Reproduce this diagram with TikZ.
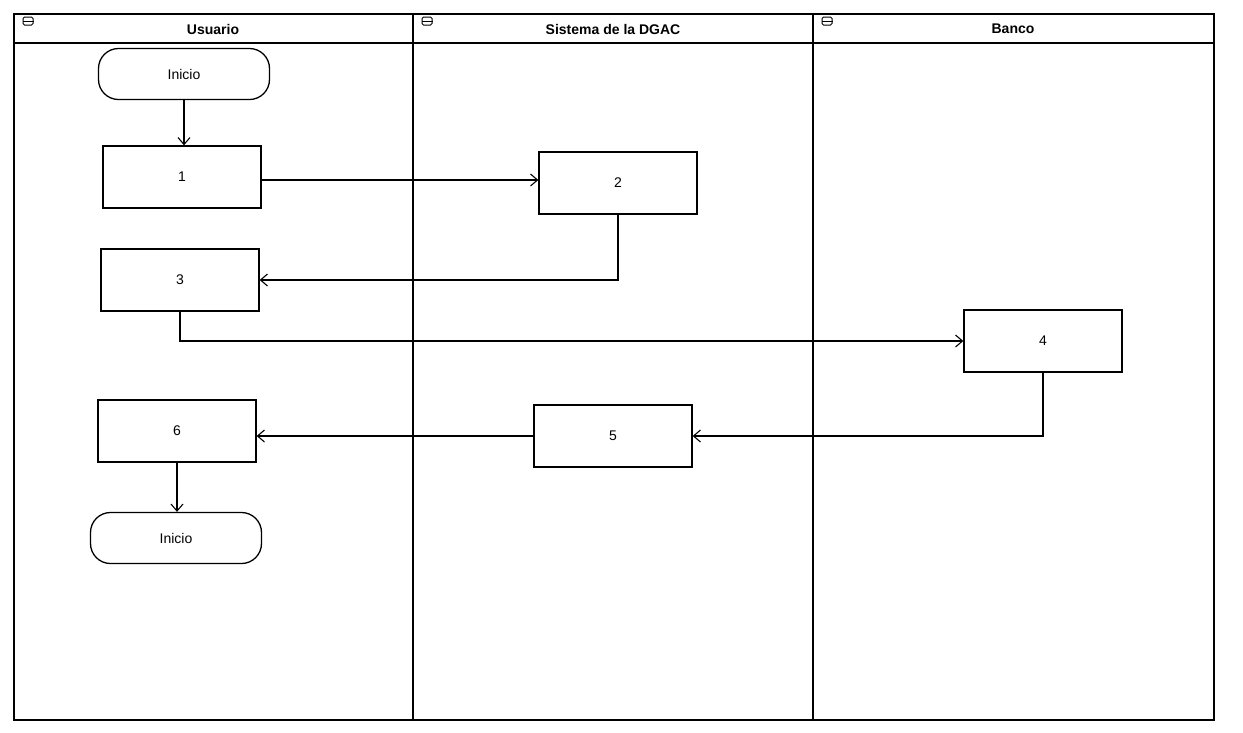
\documentclass[tikz,border=0pt]{standalone}
\usepackage{fontspec}
\setmainfont{Liberation Sans}
\usetikzlibrary{arrows.meta}
\begin{document}
\begin{tikzpicture}[x=1pt,y=1pt,yscale=-1,
  lane/.style={draw,line width=1.4pt},
  laneicon/.style={draw,line width=1pt,rounded corners=1.5pt,minimum width=10pt,minimum height=8pt,inner sep=0pt},
  lanetitle/.style={font=\bfseries\fontsize{14}{16}\selectfont},
  taskbox/.style={draw,line width=1.3pt,minimum width=158pt,minimum height=62pt,font=\fontsize{14}{16}\selectfont},
  endbox/.style={draw,line width=1.3pt,rounded corners=20pt,minimum width=171pt,minimum height=51pt,font=\fontsize{14}{16}\selectfont},
  flow/.style={line width=1.1pt,-{Straight Barb[length=7pt,width=12pt]}}]
\useasboundingbox (0,0) rectangle (1243,732);

%Pool and lanes
\draw [lane] (14,14) rectangle (1214,720) ;
\draw [lane] (14,43) -- (1214,43) ;
\draw [lane] (413,14) -- (413,720) ;
\draw [lane] (813,14) -- (813,720) ;

% Lane headers
\node [laneicon] (icU) at (28,21) {};
\draw [line width=0.8pt] (icU.west) -- (icU.east) ;
\node [laneicon] (icS) at (427,21) {};
\draw [line width=0.8pt] (icS.west) -- (icS.east) ;
\node [laneicon] (icB) at (827,21) {};
\draw [line width=0.8pt] (icB.west) -- (icB.east) ;
\node [lanetitle] (tU) at (213,29) {Usuario};
\node [lanetitle] (tS) at (613,29) {Sistema de la DGAC};
\node [lanetitle] (tB) at (1013,29) {Banco};

% Flow nodes
\node [endbox] (ini) at (184,74) {Inicio};
\node [taskbox] (t1) at (182,177) {1};
\node [taskbox] (t2) at (618,183) {2};
\node [taskbox] (t3) at (180,280) {3};
\node [taskbox] (t4) at (1043,341) {4};
\node [taskbox] (t5) at (613,436) {5};
\node [taskbox] (t6) at (177,431) {6};
\node [endbox] (fin) at (176,538) {Inicio};

% Connectors
\draw [flow] (ini) -- (ini |- t1.north) ;
\draw [flow] (t1.east |- 0,180) -- (t2.west |- 0,180) ;
\draw [flow] (t2.south) |- (t3.east) ;
\draw [flow] (t3.south) |- (t4.west) ;
\draw [flow] (t4.south) |- (t5.east) ;
\draw [flow] (t5.west) -- (t6.east |- t5.west) ;
\draw [flow] (t6.south) -- (t6.south |- fin.north) ;

\end{tikzpicture}
\end{document}
